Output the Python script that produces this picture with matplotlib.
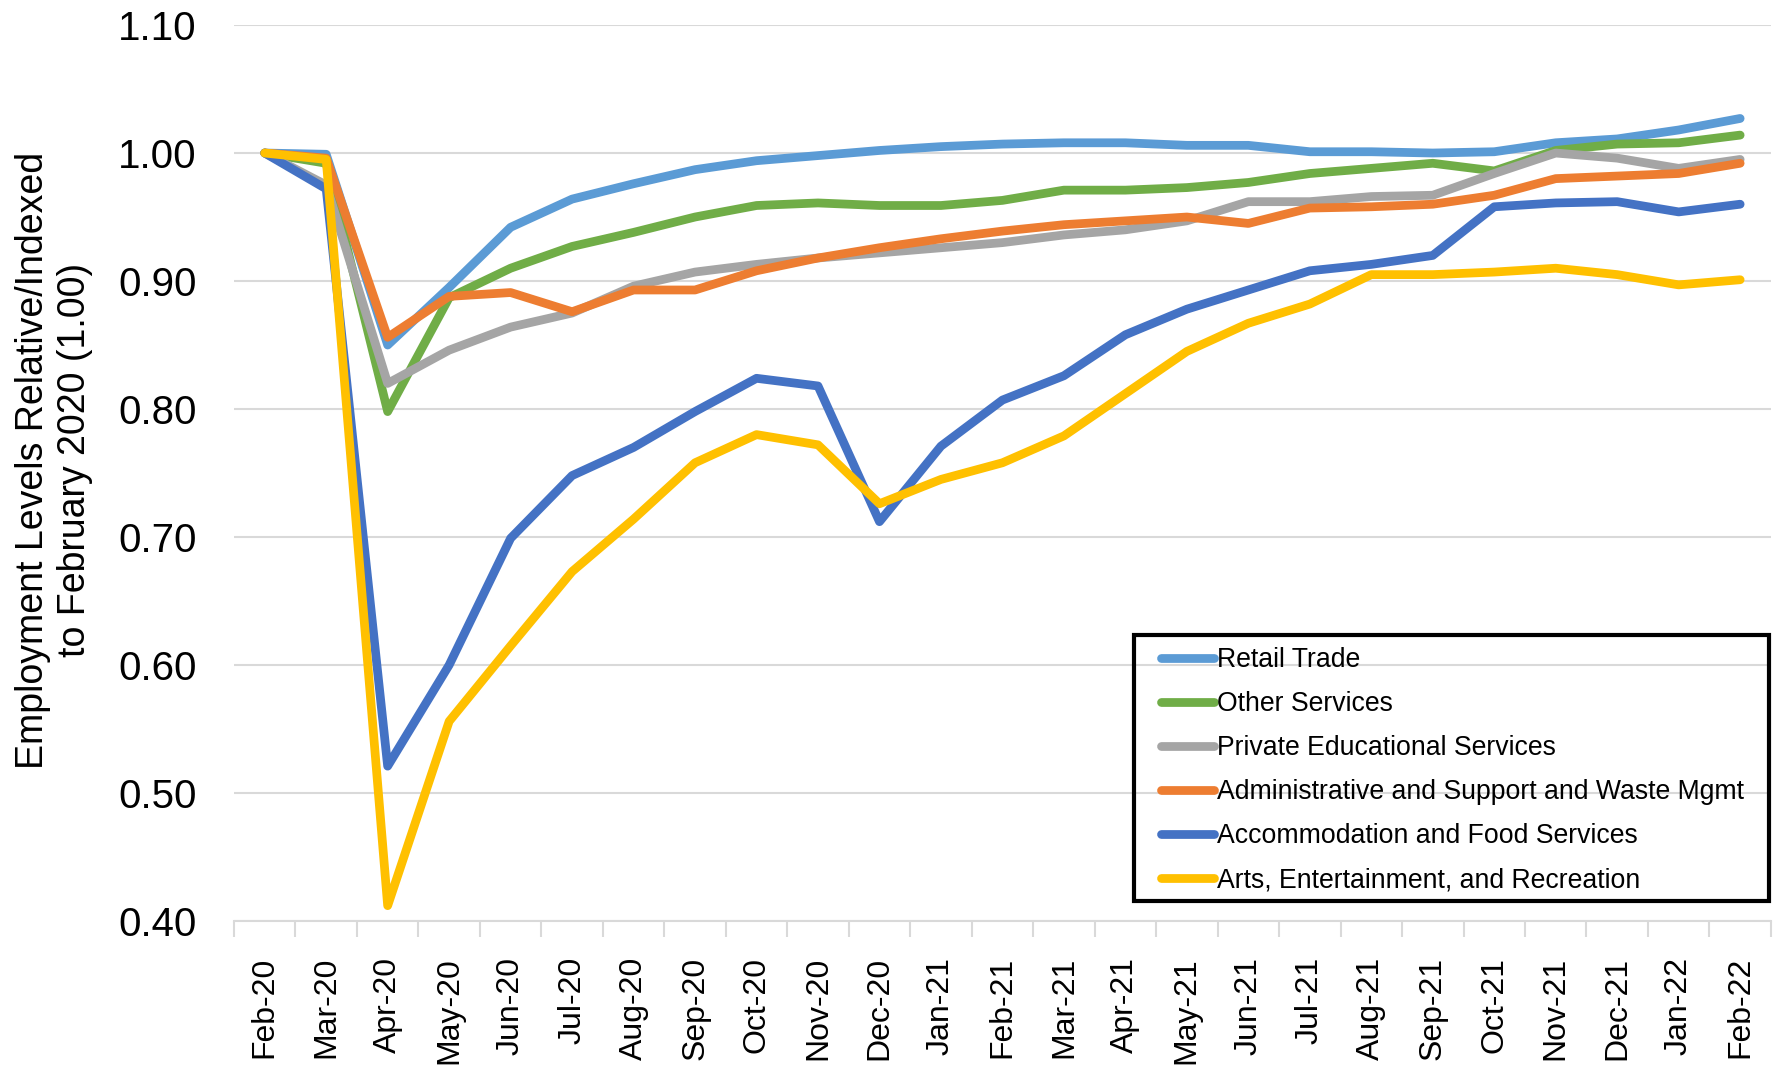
import numpy as np
import matplotlib
matplotlib.use("Agg")
import matplotlib.pyplot as plt
from matplotlib.patches import Rectangle
from matplotlib.ticker import FormatStrFormatter

plt.rcParams["font.family"] = ["Liberation Sans", "DejaVu Sans"]

months = ["Feb-20", "Mar-20", "Apr-20", "May-20", "Jun-20", "Jul-20", "Aug-20",
          "Sep-20", "Oct-20", "Nov-20", "Dec-20", "Jan-21", "Feb-21", "Mar-21",
          "Apr-21", "May-21", "Jun-21", "Jul-21", "Aug-21", "Sep-21", "Oct-21",
          "Nov-21", "Dec-21", "Jan-22", "Feb-22"]

retail = [1.000, 0.999, 0.850, 0.895, 0.942, 0.964, 0.976, 0.987, 0.994, 0.998,
          1.002, 1.005, 1.007, 1.008, 1.008, 1.006, 1.006, 1.001, 1.001, 1.000,
          1.001, 1.008, 1.011, 1.018, 1.027]
other = [1.000, 0.992, 0.798, 0.887, 0.910, 0.927, 0.938, 0.950, 0.959, 0.961,
         0.959, 0.959, 0.963, 0.971, 0.971, 0.973, 0.977, 0.984, 0.988, 0.992,
         0.986, 1.002, 1.007, 1.008, 1.014]
private_edu = [1.000, 0.975, 0.820, 0.846, 0.864, 0.875, 0.896, 0.907, 0.913, 0.918,
               0.922, 0.926, 0.930, 0.936, 0.940, 0.947, 0.962, 0.962, 0.966, 0.967,
               0.984, 1.000, 0.996, 0.988, 0.995]
admin = [1.000, 0.996, 0.856, 0.888, 0.891, 0.876, 0.893, 0.893, 0.908, 0.918,
         0.926, 0.933, 0.939, 0.944, 0.947, 0.950, 0.945, 0.957, 0.958, 0.960,
         0.967, 0.980, 0.982, 0.984, 0.992]
accommodation = [1.000, 0.972, 0.521, 0.600, 0.699, 0.748, 0.770, 0.798, 0.824, 0.818,
                 0.712, 0.771, 0.807, 0.826, 0.858, 0.878, 0.893, 0.908, 0.913, 0.920,
                 0.958, 0.961, 0.962, 0.954, 0.960]
arts = [1.000, 0.995, 0.412, 0.556, 0.615, 0.673, 0.714, 0.758, 0.780, 0.772,
        0.726, 0.745, 0.758, 0.779, 0.812, 0.845, 0.867, 0.882, 0.905, 0.905,
        0.907, 0.910, 0.905, 0.897, 0.901]

names = ["Retail Trade", "Other Services", "Private Educational Services",
         "Administrative and Support and Waste Mgmt",
         "Accommodation and Food Services", "Arts, Entertainment, and Recreation"]
colors = ["#5B9BD5", "#70AD47", "#A5A5A5", "#ED7D31", "#4472C4", "#FFC000"]
data = [retail, other, private_edu, admin, accommodation, arts]

fig = plt.figure(figsize=(17.78, 10.65), dpi=100)
ax = fig.add_axes([0.1316, 0.1352, 0.8644, 0.8413])

x = np.arange(len(months))
for name, vals, col in zip(names, data, colors):
    ax.plot(x, vals, color=col, lw=6.3, solid_capstyle="round",
            solid_joinstyle="round", label=name)

ax.set_xlim(-0.5, len(months) - 0.5)
ax.set_ylim(0.40, 1.10)
ax.set_yticks(np.arange(0.40, 1.101, 0.10))
ax.yaxis.set_major_formatter(FormatStrFormatter("%.2f"))
ax.grid(axis="y", color="#D9D9D9", lw=1.5)
ax.set_axisbelow(True)
for s in ["top", "right", "left"]:
    ax.spines[s].set_visible(False)
ax.spines["bottom"].set_color("#D9D9D9")
ax.spines["bottom"].set_linewidth(1.5)

ax.set_xticks(x)
ax.set_xticklabels(months, rotation=90, fontsize=23)
ax.set_xticks(np.arange(-0.5, len(months)), minor=True)
ax.tick_params(axis="x", which="minor", length=11.5, width=1.5, color="#D9D9D9")
ax.tick_params(axis="x", which="major", length=0, pad=26)
ax.tick_params(axis="y", length=0, pad=27, labelsize=29)

fig.text(0.0305, 0.568, "Employment Levels Relative/Indexed\nto February 2020 (1.00)",
         rotation=90, ha="center", va="center", multialignment="center",
         fontsize=27, linespacing=1.2)

# legend entries without frame; box drawn separately to match the padding
leg = ax.legend(loc="upper left", bbox_to_anchor=(0.603, 0.306), fontsize=19.2,
                frameon=False, handlelength=2.0, handletextpad=0.1, borderpad=0,
                labelspacing=0.68, borderaxespad=0)
ax.add_patch(Rectangle((0.5856, 0.0223), 0.4131, 0.2967, transform=ax.transAxes,
                       fill=False, edgecolor="black", lw=3.0, zorder=5,
                       clip_on=False))

fig.savefig("out.png", dpi=100)
